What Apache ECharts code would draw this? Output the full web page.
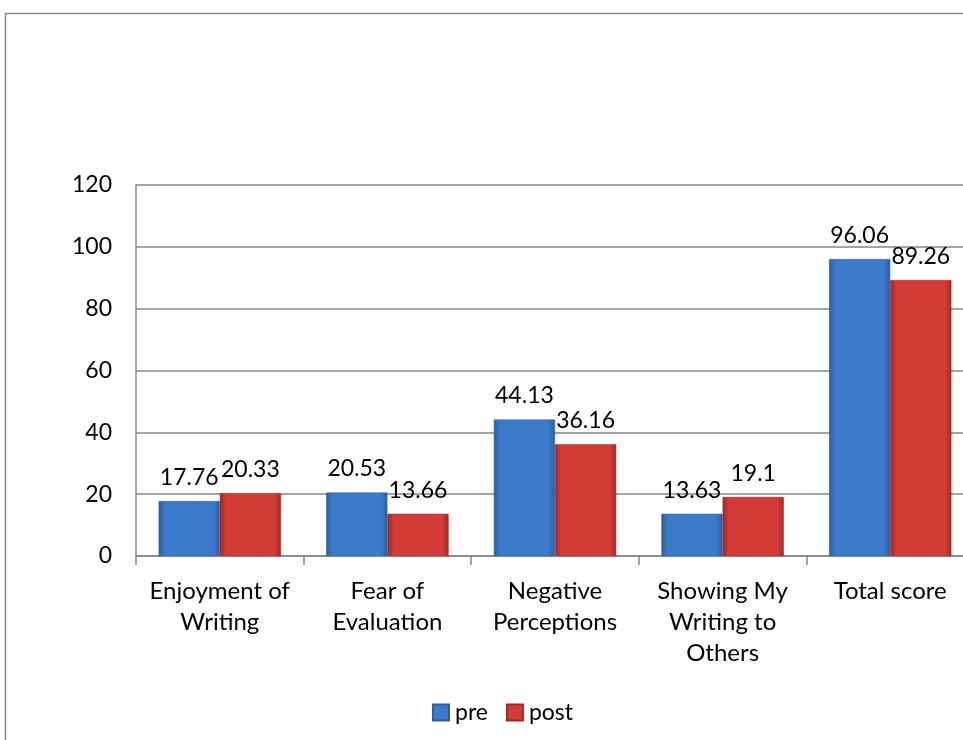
<!DOCTYPE html>
<html>
<head>
<meta charset="utf-8">
<script src="https://cdn.jsdelivr.net/npm/echarts@6/dist/echarts.min.js"></script>
<style>
  html, body { margin: 0; padding: 0; background: #fff; }
  #chart { width: 963px; height: 740px; }
</style>
</head>
<body>
<div id="chart"></div>
<script>
const categories = ['Enjoyment of\nWriting', 'Fear of\nEvaluation', 'Negative\nPerceptions', 'Showing My\nWriting to\nOthers', 'Total score']
const preValues = [17.76, 20.53, 44.13, 13.63, 96.06]
const postValues = [20.33, 13.66, 36.16, 19.1, 89.26]
const yTicks = [0, 20, 40, 60, 80, 100, 120]

const font = 'Lato, "Open Sans", sans-serif'

// bevel-like look: darker edges, lighter middle
function barColor(edge, mid) {
  return {
    type: 'linear', x: 0, y: 0, x2: 1, y2: 0,
    colorStops: [
      { offset: 0, color: edge },
      { offset: 0.1, color: mid },
      { offset: 0.9, color: mid },
      { offset: 1, color: edge },
    ],
  }
}

let chart = echarts.init(document.getElementById('chart'))

let option = {
  animation: false,
  textStyle: { fontFamily: font },
  graphic: [
    {
      type: 'rect',
      shape: { x: 5.5, y: 13.5, width: 1000, height: 800 },
      style: { fill: 'none', stroke: '#8a8a8a', lineWidth: 1.5 },
      silent: true,
    },
  ],
  // plot area runs past the right edge of the picture
  grid: { left: 136, width: 838, top: 185, height: 371, outerBoundsMode: 'none', containLabel: false },
  legend: {
    top: 696,
    left: 427,
    itemWidth: 16,
    itemHeight: 16,
    itemGap: 18,
    icon: 'rect',
    textStyle: { fontSize: 23, color: '#000', fontFamily: font, padding: [0, 0, 0, 1] },
    data: ['pre', 'post'],
  },
  xAxis: {
    type: 'category',
    data: categories,
    axisLine: { lineStyle: { color: '#868686', width: 1.5 } },
    axisTick: { show: true, length: 9, lineStyle: { color: '#868686', width: 1.5 } },
    axisLabel: { fontSize: 24, color: '#000', lineHeight: 31, margin: 20, interval: 0 },
  },
  yAxis: {
    type: 'value',
    min: yTicks[0],
    max: yTicks[yTicks.length - 1],
    interval: 20,
    axisLine: { show: true, lineStyle: { color: '#868686', width: 1.5 } },
    axisTick: { show: false },
    splitLine: { lineStyle: { color: '#868686', width: 1.5 } },
    axisLabel: { fontSize: 23, color: '#000', margin: 24 },
  },
  series: [
    {
      name: 'pre',
      type: 'bar',
      data: preValues,
      barGap: '0%',
      barCategoryGap: '27%',
      itemStyle: { color: barColor('#2d5d9c', '#3b7acb'), borderColor: '#2f5e98', borderWidth: 0.5 },
      label: { show: true, position: 'top', distance: 12, fontSize: 23, color: '#000' },
    },
    {
      name: 'post',
      type: 'bar',
      data: postValues,
      itemStyle: { color: barColor('#9c2a27', '#d23b36'), borderColor: '#9a2b28', borderWidth: 0.5 },
      label: { show: true, position: 'top', distance: 12, fontSize: 23, color: '#000' },
    },
  ],
}

chart.setOption(option)
</script>
</body>
</html>
